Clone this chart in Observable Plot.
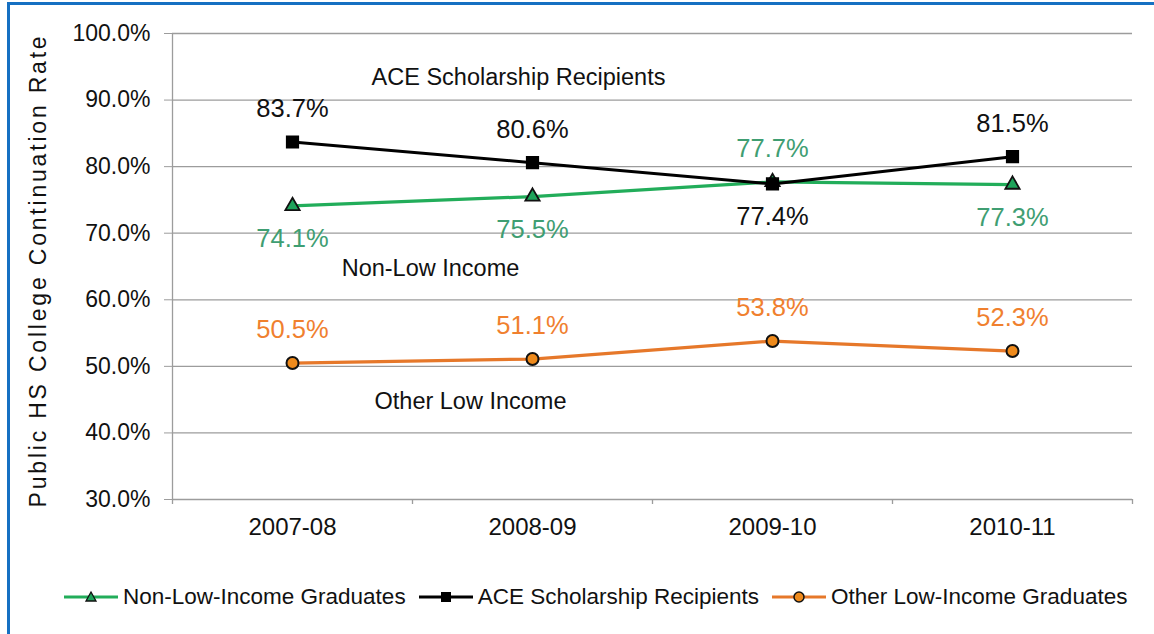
<!DOCTYPE html>
<html><head><meta charset="utf-8">
<script src="https://cdn.jsdelivr.net/npm/d3@7"></script>
<script src="https://cdn.jsdelivr.net/npm/@observablehq/plot@0.6"></script>
<style>
body{margin:0;background:#fff;font-family:"Liberation Sans",Arial,sans-serif;}
#wrap{position:relative;width:1154px;height:634px;overflow:hidden;background:#fff;}
#border{position:absolute;left:7px;top:2px;right:-10px;bottom:-10px;border-left:3px solid #1670c2;border-top:3px solid #1670c2;pointer-events:none}
#chart{position:absolute;left:0;top:0}
#legend{position:absolute;top:584px;left:64px;display:flex;align-items:center;font-size:22.5px;color:#111;white-space:nowrap;}
#legend .item{display:flex;align-items:center;margin-right:4px;}
#legend svg{margin-right:5px;}
</style></head>
<body>
<div id="wrap"><div id="chart"></div><div id="legend"></div><div id="border"></div></div>
<script>
const years = ["2007-08","2008-09","2009-10","2010-11"];
const nonLowIncome = [74.1, 75.5, 77.7, 77.3];
const aceRecipients = [83.7, 80.6, 77.4, 81.5];
const otherLowIncome = [50.5, 51.1, 53.8, 52.3];
const nonLowLabelSide = ["below","below","above","below"];
const aceLabelSide = ["above","above","below","above"];
const otherLabelSide = ["above","above","above","above"];
const yTicks = [30, 40, 50, 60, 70, 80, 90, 100];
const legendNames = ["Non-Low-Income Graduates","ACE Scholarship Recipients","Other Low-Income Graduates"];
const annotationTexts = ["ACE Scholarship Recipients","Non-Low Income","Other Low Income"];
const annotationYears = ["2008-09","2008-09","2008-09"];
const annotationValues = [93.4, 64.7, 44.7];
const yTitle = "Public HS College Continuation Rate";

const GREEN = "#22ad5a", GREEN_TXT = "#3f9e72", ORANGE = "#e6782a", ORANGE_TXT = "#f0802e", BLACK = "#000";

function rows(vals, sides){ return years.map((y,i)=>({year:y, value:vals[i], side:sides[i]})); }
const nonRows = rows(nonLowIncome, nonLowLabelSide);
const aceRows = rows(aceRecipients, aceLabelSide);
const othRows = rows(otherLowIncome, otherLabelSide);
const annRows = annotationTexts.map((t,i)=>({text:t, year:annotationYears[i], value:annotationValues[i]}));
const fmt = d => d.value.toFixed(1) + "%";

const H = 560, MT = 33, MB = 61;
const plotH = H - MT - MB;

function valueLabels(data, color){
  return [
    Plot.text(data.filter(d=>d.side==="above"), {x:"year", y:"value", text:fmt, dy:-33, fill:color, fontSize:25.5}),
    Plot.text(data.filter(d=>d.side==="below"), {x:"year", y:"value", text:fmt, dy:33, fill:color, fontSize:25.5})
  ];
}

const chart = Plot.plot({
  width: 1154, height: H,
  marginLeft: 172, marginRight: 22, marginTop: MT, marginBottom: MB,
  style: {fontFamily: '"Liberation Sans", Arial, sans-serif', background: "transparent", color:"#111"},
  x: {type: "point", domain: years, padding: 0.5},
  y: {domain: [30, 100]},
  marks: [
    Plot.ruleY(yTicks, {stroke: "#9c9c9c", strokeWidth: 1.3}),
    Plot.ruleX(years.slice(0,1), {x: d=>d, dx: -120, stroke: "#9c9c9c", strokeWidth: 1.3, insetBottom: -5}),
    Plot.ruleX(years.slice(1), {x: d=>d, dx: -120, stroke: "#9c9c9c", strokeWidth: 1.3, insetTop: plotH, insetBottom: -5}),
    Plot.ruleX(years.slice(-1), {x: d=>d, dx: 120, stroke: "#9c9c9c", strokeWidth: 1.3, insetTop: plotH, insetBottom: -5}),
    Plot.axisY({ticks: yTicks, tickFormat: d => d.toFixed(1) + "%", tickSize: 8, tickPadding: 14, fontSize: 23, stroke: "#9c9c9c", fill: "#111", label: null}),
    Plot.axisX({tickSize: 0, tickPadding: 18, fontSize: 24, fill: "#111", label: null}),
    Plot.text([yTitle], {frameAnchor: "left", dx: -134, dy: 4, rotate: -90, text: d=>d, textAnchor: "middle", fontSize: 23, fill: "#111"}),
    Plot.line(othRows, {x:"year", y:"value", stroke: ORANGE, strokeWidth: 3.2}),
    Plot.line(nonRows, {x:"year", y:"value", stroke: GREEN, strokeWidth: 3.2}),
    Plot.line(aceRows, {x:"year", y:"value", stroke: BLACK, strokeWidth: 3}),
    Plot.dot(othRows, {x:"year", y:"value", symbol:"circle", r: 6, fill: "#ee8a1c", stroke: "#111", strokeWidth: 2}),
    Plot.dot(nonRows, {x:"year", y:"value", symbol:"triangle", r: 5.3, fill: "#1ea35a", stroke: "#111", strokeWidth: 1.8}),
    Plot.dot(aceRows, {x:"year", y:"value", symbol:"square", r: 6.6, fill: "#000", stroke: "#000"}),
    ...valueLabels(aceRows, "#111"),
    ...valueLabels(nonRows, GREEN_TXT),
    ...valueLabels(othRows, ORANGE_TXT),
    Plot.text(annRows.slice(0,1), {x:"year", y:"value", text:"text", dx: -14, fontSize: 23.5, fill:"#111"}),
    Plot.text(annRows.slice(1,2), {x:"year", y:"value", text:"text", dx: -102, fontSize: 23.5, fill:"#111"}),
    Plot.text(annRows.slice(2,3), {x:"year", y:"value", text:"text", dx: -62, fontSize: 23.5, fill:"#111"})
  ]
});
document.getElementById("chart").appendChild(chart);
// widen the rotated axis title like the reference
d3.select(chart).selectAll("text").filter(function(){ return this.textContent === yTitle; }).style("letter-spacing", "2.8px");

// legend
const legendStyles = [
  {stroke: GREEN, marker: "triangle", fill: "#1ea35a"},
  {stroke: BLACK, marker: "square", fill: "#000"},
  {stroke: ORANGE, marker: "circle", fill: "#ee8a1c"}
];
const legend = document.getElementById("legend");
legendNames.forEach((name, i) => {
  const s = legendStyles[i];
  const item = document.createElement("div");
  item.className = "item";
  let marker = "";
  if (s.marker === "triangle") marker = `<path d="M27,5 L32,14 L22,14 Z" fill="${s.fill}" stroke="#111" stroke-width="1.3"/>`;
  if (s.marker === "square") marker = `<rect x="22" y="5" width="10" height="10" fill="#000"/>`;
  if (s.marker === "circle") marker = `<circle cx="27" cy="10" r="5" fill="${s.fill}" stroke="#111" stroke-width="1.5"/>`;
  item.innerHTML = `<svg width="54" height="20"><line x1="0" x2="54" y1="10" y2="10" stroke="${s.stroke}" stroke-width="3"/>${marker}</svg><span>${name}</span>`;
  if (i < legendNames.length - 1) item.style.marginRight = "13px";
  legend.appendChild(item);
});
</script>
</body></html>
